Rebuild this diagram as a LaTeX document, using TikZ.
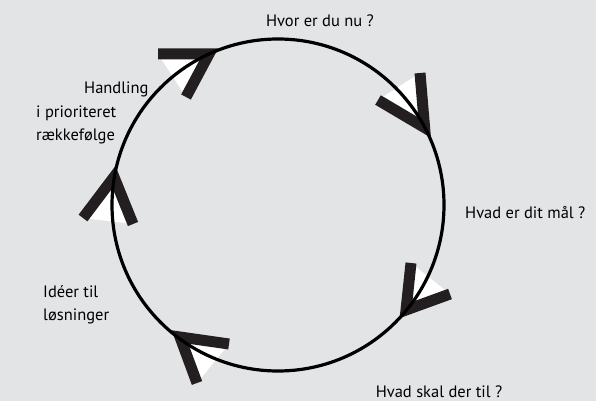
\documentclass[tikz,border=0pt]{standalone}
\usepackage{fontspec}
\setmainfont{PT Sans}
\definecolor{bggray}{RGB}{227,228,230}
\definecolor{barblack}{RGB}{35,31,32}

\begin{document}
\begin{tikzpicture}[x=1pt, y=-1pt,
    every node/.style={font=\fontsize{16.5}{23.5}\selectfont, inner sep=0pt},
    % the cycle
    ring/.style={draw=black, line width=3.2pt},
    % thick bars of an arrowhead
    armbar/.style={draw=barblack, line width=11pt},
    % white wedge between the bars
    wedge/.style={fill=white},
    % step labels
    steplabel/.style={align=left},
]

% ====================================================
% BACKGROUND
% ====================================================
\fill[bggray] (0,0) rectangle (596,401);
\useasboundingbox (0,0) rectangle (596,401);

% ====================================================
% ARROWHEADS ON THE RING (tip, then the two arm ends)
% ====================================================
\coordinate (tip1) at (209,54);     \coordinate (arm1-a) at (158,54);  \coordinate (arm1-b) at (186,97);
\coordinate (tip2) at (424.6,127.6); \coordinate (arm2-a) at (420,73); \coordinate (arm2-b) at (378,100);
\coordinate (tip3) at (406,310);    \coordinate (arm3-a) at (411,263); \coordinate (arm3-b) at (450,294);
\coordinate (tip4) at (180,337);    \coordinate (arm4-a) at (229,344); \coordinate (arm4-b) at (197,383);
\coordinate (tip5) at (114,177);    \coordinate (arm5-a) at (83,218);  \coordinate (arm5-b) at (133,224);

\foreach \n in {1,...,5} {
    \fill[wedge] (tip\n) -- (arm\n-a) -- (arm\n-b) -- cycle;
    \draw[armbar] (arm\n-a) -- (tip\n) -- (arm\n-b);
}

% ====================================================
% RING
% ====================================================
\node[circle, minimum size=332pt] (cycle) at (278,205) {};
\draw[ring] (cycle.center) circle[radius=166pt];

% ====================================================
% LABELS
% ====================================================
\node (now) at (320,21) {Hvor er du nu ?};
\node[anchor=west] (goal) at (465,213) {Hvad er dit mål ?};
\node (need) at (439,392) {Hvad skal der til ?};
\node[steplabel, anchor=west] (ideas) at (43,305) {Idéer til\\løsninger};
\node[steplabel, anchor=west] (action) at (36,113)
    {\hspace*{48pt}Handling\\i prioriteret\\rækkefølge};

\end{tikzpicture}
\end{document}
